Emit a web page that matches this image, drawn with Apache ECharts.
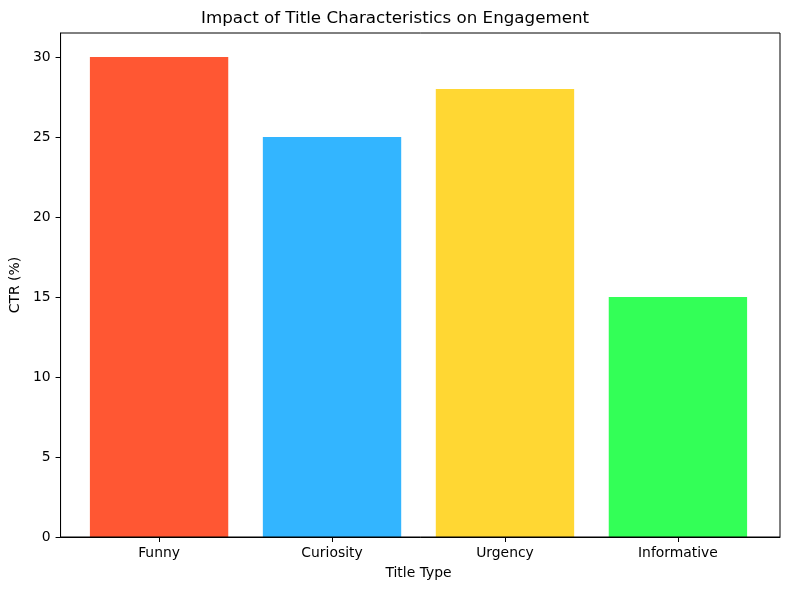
<!DOCTYPE html>
<html>
<head>
<meta charset="utf-8">
<script src="https://cdn.jsdelivr.net/npm/echarts@6/dist/echarts.min.js"></script>
<style>html,body{margin:0;padding:0;background:#fff;}#c{width:790px;height:590px;}</style>
</head>
<body>
<div id="c"></div>
<script>
var categories = ['Funny', 'Curiosity', 'Urgency', 'Informative'];
var ctrValues = [30, 25, 28, 15];
var yTicks = [0, 5, 10, 15, 20, 25, 30];
var barColors = ['#FF5733', '#33B5FF', '#FFD733', '#33FF57'];

var chart = echarts.init(document.getElementById('c'), null, {renderer: 'canvas'});
var font = 'DejaVu Sans';
var black = {color: '#000', width: 1};
chart.setOption({
  animation: false,
  backgroundColor: '#fff',
  title: {
    text: 'Impact of Title Characteristics on Engagement',
    left: 'center', top: 5,
    textStyle: {fontFamily: font, fontSize: 16.7, fontWeight: 'normal', color: '#000'}
  },
  grid: [
    {left: 57, right: 10, top: 33, bottom: 53, show: true, borderColor: '#000', borderWidth: 1, backgroundColor: 'transparent', z: 3},
    {left: 72.6, right: 25.6, top: 33, bottom: 53}
  ],
  xAxis: [
    {gridIndex: 0, type: 'value', min: 0, max: 1, z: 3,
      axisLine: {show: true, onZero: false, lineStyle: black},
      axisTick: {show: false}, axisLabel: {show: false}, splitLine: {show: false}},
    {gridIndex: 1, type: 'category', data: categories,
      name: 'Title Type', nameLocation: 'middle', nameGap: 29,
      nameTextStyle: {fontFamily: font, fontSize: 13.9, color: '#000'},
      axisLine: {show: false},
      axisTick: {show: true, alignWithLabel: true, length: 5, inside: false, lineStyle: black},
      axisLabel: {margin: 9, fontFamily: font, fontSize: 13.9, color: '#000', interval: 0},
      splitLine: {show: false}}
  ],
  yAxis: [
    {gridIndex: 0, type: 'value', min: 0, max: 31.5, z: 3,
      name: 'CTR (%)', nameLocation: 'middle', nameGap: 35,
      nameTextStyle: {fontFamily: font, fontSize: 13.9, color: '#000'},
      axisLine: {show: true, onZero: false, lineStyle: black},
      axisTick: {show: true, length: 5, lineStyle: black, customValues: yTicks},
      axisLabel: {customValues: yTicks, margin: 10, fontFamily: font, fontSize: 13.9, color: '#000'},
      splitLine: {show: false}},
    {gridIndex: 1, type: 'value', min: 0, max: 31.5, show: false, splitLine: {show: false}}
  ],
  series: [{
    type: 'bar',
    xAxisIndex: 1, yAxisIndex: 1,
    barWidth: '80%',
    data: ctrValues.map(function (v, i) {
      return {value: v, itemStyle: {color: barColors[i]}};
    })
  }]
});
</script>
</body>
</html>
